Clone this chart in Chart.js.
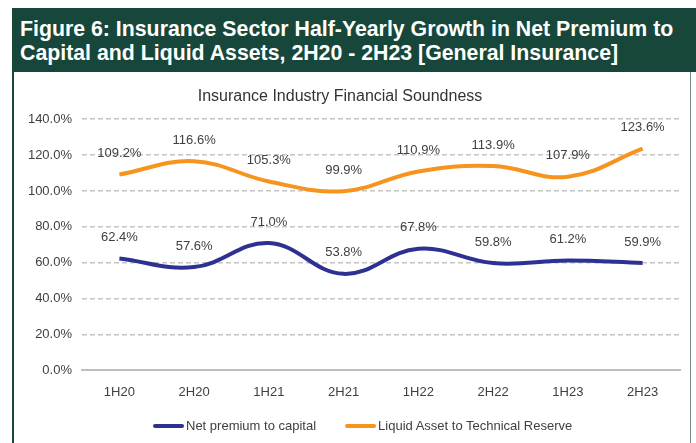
<!DOCTYPE html>
<html>
<head>
<meta charset="utf-8">
<script src="https://cdn.jsdelivr.net/npm/chart.js@4.4.1/dist/chart.umd.min.js"></script>
<style>
  html, body { margin: 0; padding: 0; background: #fff; }
  body { width: 696px; height: 443px; position: relative; overflow: hidden; font-family: "Liberation Sans", Arial, sans-serif; }
  .fig-head {
    position: absolute; left: 12px; top: 8px; width: 684px; height: 64px;
    background: #17473a; color: #fff; font-weight: bold; font-size: 21.3px;
    line-height: 24px; padding: 9px 0 0 8px; box-sizing: border-box; white-space: nowrap;
  }
  .panel {
    position: absolute; left: 12px; top: 72px; width: 679px; height: 380px;
    border-left: 2px solid #17473a; border-right: 1px solid #6f8a7f; box-sizing: border-box;
  }
  #chart-6 { position: absolute; left: 0; top: 0; }
  .legend { position: absolute; left: 153px; top: 418px; display: flex; font-size: 13px; color: #404040; line-height: 16px; }
  .legend .item { display: flex; align-items: center; margin-right: 29px; }
  .legend .swatch { width: 31px; height: 4px; border-radius: 2px; margin-right: 2px; }
</style>
</head>
<body>
<div class="fig-head">Figure 6: Insurance Sector Half-Yearly Growth in Net Premium to<br>Capital and Liquid Assets, 2H20 - 2H23 [General Insurance]</div>
<div class="panel"></div>
<canvas id="chart-6" width="696" height="443"></canvas>
<div class="legend" id="legend"></div>
<script>
const periods = ['1H20', '2H20', '1H21', '2H21', '1H22', '2H22', '1H23', '2H23'];
const netPremium = [62.4, 57.6, 71.0, 53.8, 67.8, 59.8, 61.2, 59.9];
const liquidAsset = [109.2, 116.6, 105.3, 99.9, 110.9, 113.9, 107.9, 123.6];
const yTicks = [0, 20, 40, 60, 80, 100, 120, 140];

// value labels above each point
const pointLabels = {
  id: 'pointLabels',
  afterDatasetsDraw(chart) {
    const ctx = chart.ctx;
    ctx.save();
    ctx.font = '13px "Liberation Sans", Arial, sans-serif';
    ctx.fillStyle = '#404040';
    ctx.textAlign = 'center';
    ctx.textBaseline = 'middle';
    chart.data.datasets.forEach((ds, i) => {
      chart.getDatasetMeta(i).data.forEach((pt, j) => {
        ctx.fillText(ds.data[j].toFixed(1) + '%', pt.x, pt.y - 21);
      });
    });
    ctx.restore();
  }
};

Chart.defaults.font.family = '"Liberation Sans", Arial, sans-serif';
Chart.defaults.color = '#404040';

const ctx = document.getElementById('chart-6').getContext('2d');
const chart6 = new Chart(ctx, {
  type: 'line',
  data: {
    labels: periods,
    datasets: [
      {
        label: 'Net premium to capital',
        data: netPremium,
        borderColor: '#2e3192',
        backgroundColor: '#2e3192',
        borderWidth: 4,
        pointRadius: 0,
        tension: 0.4,
      },
      {
        label: 'Liquid Asset to Technical Reserve',
        data: liquidAsset,
        borderColor: '#f7941d',
        backgroundColor: '#f7941d',
        borderWidth: 4,
        pointRadius: 0,
        tension: 0.4,
      },
    ]
  },
  options: {
    responsive: false,
    animation: false,
    layout: { padding: { top: 83, right: 16, left: 0, bottom: 29 } },
    scales: {
      x: {
        offset: true,
        grid: { display: false, drawTicks: false },
        border: { display: true, color: '#bfbfbf', width: 2 },
        ticks: { color: '#404040', font: { size: 13 }, padding: 14 },
      },
      y: {
        min: 0,
        max: 140,
        afterBuildTicks: (axis) => { axis.ticks = yTicks.map(v => ({ value: v })); },
        afterFit: (axis) => { axis.width = 82; },
        grid: {
          color: (c) => c.tick && c.tick.value === 0 ? 'rgba(0,0,0,0)' : '#c4c4c4',
          lineWidth: 1.5,
          drawTicks: false,
        },
        border: { display: false, dash: [5, 3] },
        ticks: {
          color: '#404040',
          font: { size: 13 },
          padding: 10,
          callback: (v) => v.toFixed(1) + '%',
        },
      },
    },
    plugins: {
      title: {
        display: true,
        text: 'Insurance Industry Financial Soundness',
        color: '#333',
        font: { size: 16, weight: 'normal' },
        padding: { top: 4, bottom: 13 },
      },
      legend: { display: false },
      tooltip: { enabled: false },
    },
  },
  plugins: [pointLabels],
});

// html legend from the datasets
const legendBox = document.getElementById('legend');
chart6.data.datasets.forEach((ds) => {
  const item = document.createElement('div');
  item.className = 'item';
  item.innerHTML = '<span class="swatch" style="background:' + ds.borderColor + '"></span><span>' + ds.label + '</span>';
  legendBox.appendChild(item);
});
</script>
</body>
</html>
